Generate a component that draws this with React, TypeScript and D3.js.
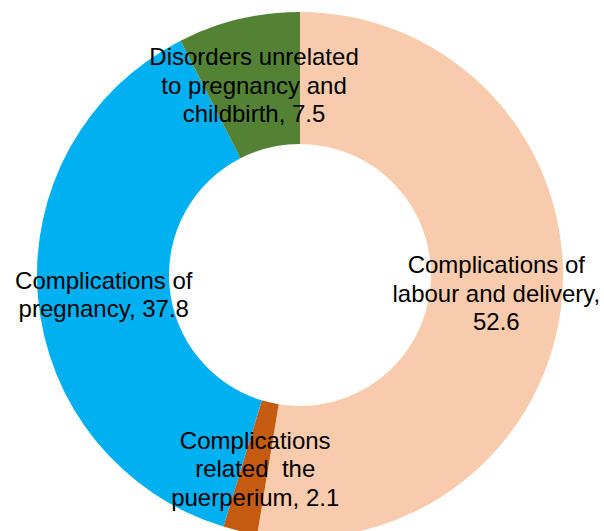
import React from "react";
import * as d3 from "d3";

const categories = [
  "Complications of labour and delivery",
  "Complications related  the puerperium",
  "Complications of pregnancy",
  "Disorders unrelated to pregnancy and childbirth",
];
const values = [52.6, 2.1, 37.8, 7.5];
const labelLines = [
  ["Complications of", "labour and delivery,", "52.6"],
  ["Complications", "related  the", "puerperium, 2.1"],
  ["Complications of", "pregnancy, 37.8"],
  ["Disorders unrelated", "to pregnancy and", "childbirth, 7.5"],
];
const colors = ["#F8CBAD", "#C55A11", "#00B0F0", "#548235"];

const W = 604;
const H = 531;

export default function App() {
  const cx = 300;
  const cy = 275;
  const outer = 263;
  const inner = 131;
  const lineH = 28.5;

  const data = categories.map((c, i) => ({ c, v: values[i], i }));
  const pie = d3
    .pie<any>()
    .value((d: any) => d.v)
    .sort(null)
    .startAngle(0)
    .endAngle(2 * Math.PI);
  const arcs = pie(data);
  const arc = d3.arc<any>().innerRadius(inner).outerRadius(outer);

  return (
    <svg
      width={W}
      height={H}
      style={{ position: "absolute", left: 0, top: 0, background: "#fff" }}
    >
      <g transform={`translate(${cx},${cy})`}>
        {arcs.map((a: any) => (
          <path key={a.data.c} d={arc(a) as string} fill={colors[a.data.i]} />
        ))}
        {arcs.map((a: any) => {
          const [x, y] = arc.centroid(a);
          const lines = labelLines[a.data.i];
          const n = lines.length;
          return (
            <text
              key={"t" + a.data.c}
              x={x}
              y={y}
              textAnchor="middle"
              fontFamily="'Liberation Sans', Arial, sans-serif"
              fontSize={24}
              fill="#000"
              style={{ whiteSpace: "pre" }}
            >
              {lines.map((l, k) => (
                <tspan key={k} x={x} y={y + (k - (n - 1) / 2) * lineH + 10.5}>
                  {l}
                </tspan>
              ))}
            </text>
          );
        })}
      </g>
    </svg>
  );
}
